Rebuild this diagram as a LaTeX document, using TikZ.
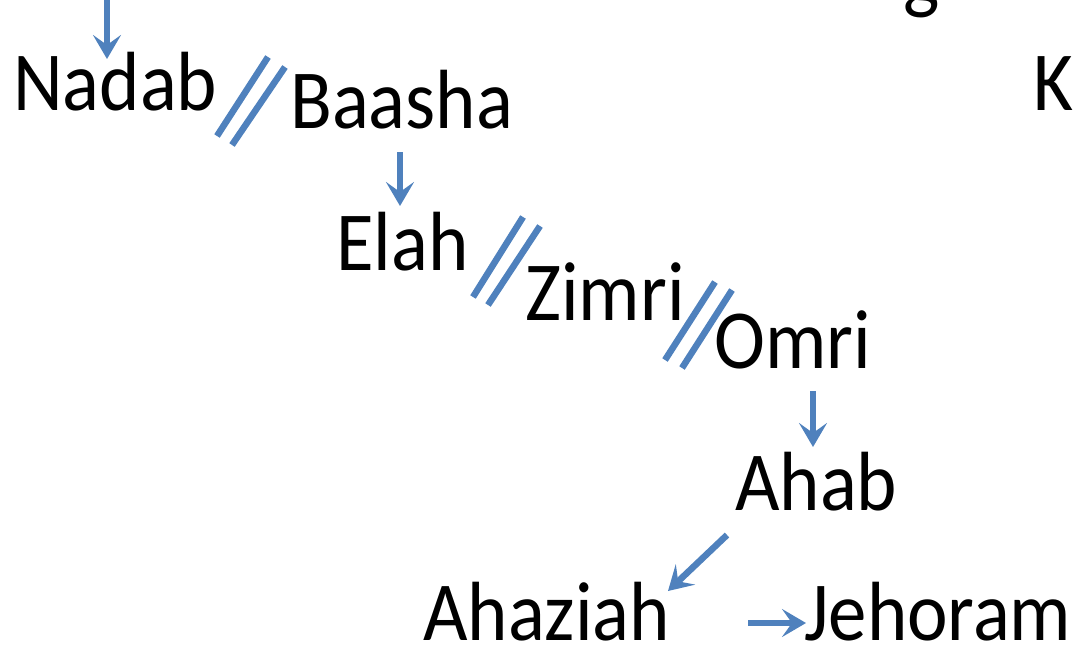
\documentclass[tikz,border=0pt]{standalone}
\usepackage{fontspec}
\setmainfont{Carlito}
\usetikzlibrary{arrows.meta}
\definecolor{arrblue}{RGB}{79,129,189}
\newcommand{\kname}[1]{\scalebox{0.915}[1]{#1}}
\begin{document}
\begin{tikzpicture}[x=1pt,y=-1pt,
  king/.style={anchor=base west,inner sep=0pt,font=\fontsize{84}{84}\selectfont},
  arr/.style={draw=arrblue,line width=6.5pt,-{Stealth[length=24pt,width=28pt,inset=10pt]}},
  sep/.style={draw=arrblue,line width=6.5pt}]
\useasboundingbox (0,0) rectangle (1075,648);
\clip (0,0) rectangle (1075,648);
% texts
\node[king] (g) at (903,3) {\kname{g}};
\node[king] (K) at (1033,110) {\kname{K}};
\node[king] (nadab) at (13,110) {\kname{Nadab}};
\node[king] (baasha) at (290,128) {\kname{Baasha}};
\node[king] (elah) at (336,270) {\kname{Elah}};
\node[king] (zimri) at (525,320) {\kname{Zimri}};
\node[king] (omri) at (714,368) {\kname{Omri}};
\node[king] (ahab) at (735,510) {\kname{Ahab}};
\node[king] (ahaziah) at (423,640) {\kname{Ahaziah}};
\node[king] (jehoram) at (804,640) {\kname{Jehoram}};
% arrow endpoints
\coordinate (a0s) at (107,-2);  \coordinate (a0e) at (107,59);
\coordinate (a1s) at (400,152); \coordinate (a1e) at (400,206);
\coordinate (a2s) at (813,391); \coordinate (a2e) at (813,447);
\coordinate (a3s) at (727,535); \coordinate (a3e) at (668,591);
\coordinate (a4s) at (748,623); \coordinate (a4e) at (806,623);
\draw[arr] (a0s) -- (a0e);
\draw[arr] (a1s) -- (a1e);
\draw[arr] (a2s) -- (a2e);
\draw[arr] (a3s) -- (a3e);
\draw[arr] (a4s) -- (a4e);
% separators
\draw[sep] (217,136) -- (268,57);
\draw[sep] (232,145) -- (285,67);
\draw[sep] (473,297) -- (523,217);
\draw[sep] (488,305) -- (540,226);
\draw[sep] (665,360) -- (715,282);
\draw[sep] (682,368) -- (732,290);
\end{tikzpicture}
\end{document}
